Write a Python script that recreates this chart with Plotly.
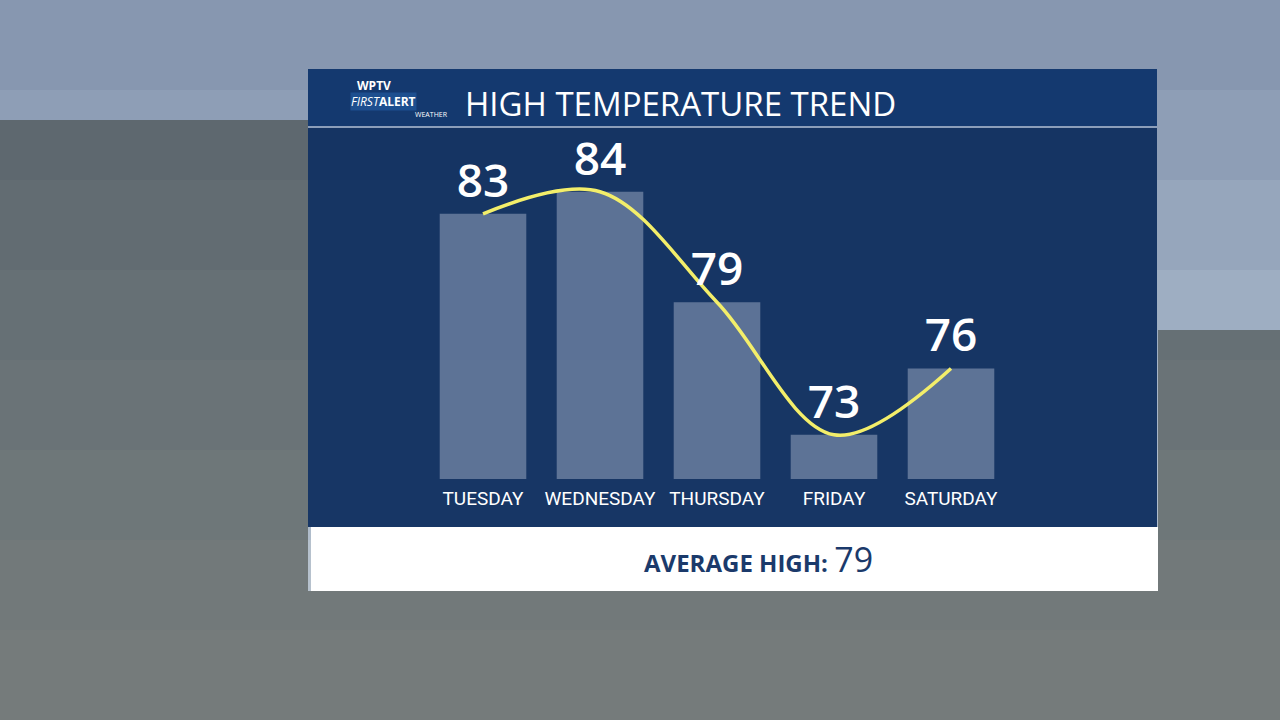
import plotly.graph_objects as go

days = ["TUESDAY", "WEDNESDAY", "THURSDAY", "FRIDAY", "SATURDAY"]
highs = [83, 84, 79, 73, 76]
average_high = 79
base_temp = 71

W, H = 1280, 720
def px(x):
    return x / W
def py(y):
    return 1 - y / H

x_idx = list(range(len(days)))
bar_vals = [h - base_temp for h in highs]

fig = go.Figure()
fig.add_trace(go.Bar(
    x=x_idx, y=bar_vals, base=base_temp, width=0.74,
    marker=dict(color="rgba(190,200,220,0.42)", line=dict(width=0)),
    hoverinfo="skip"))
fig.add_trace(go.Scatter(
    x=x_idx, y=highs, mode="lines",
    line=dict(color="#f3ee6a", width=3.5, shape="spline", smoothing=1.0),
    hoverinfo="skip"))
# value labels, lifted a little above the bar tops
fig.add_trace(go.Scatter(
    x=x_idx, y=[h + 0.25 for h in highs], mode="text", text=[str(h) for h in highs],
    textposition="top center",
    textfont=dict(color="white", size=46, family="Open Sans", weight=600),
    hoverinfo="skip"))
fig.add_trace(go.Scatter(
    x=x_idx, y=[base_temp - 0.55] * len(days), mode="text", text=days,
    textposition="bottom center",
    textfont=dict(color="white", size=19, family="Liberation Sans Narrow, Roboto"),
    hoverinfo="skip"))

shapes = []
# sky background bands
sky = ["#8797b0", "#8e9eb6", "#96a6bc", "#9eaec2", "#a7b5c7", "#afbccb", "#b6c1cd", "#bcc5ce"]
n = len(sky)
for i, c in enumerate(sky):
    shapes.append(dict(type="rect", xref="paper", yref="paper", x0=0, x1=1,
                       y0=1 - (i + 1) / n, y1=1 - i / n, fillcolor=c, line_width=0, layer="below"))
# dark foliage hints
for (x0, x1, y0, y1) in [(0, 308, 120, 720), (1158, 1280, 330, 720), (308, 1158, 591, 720)]:
    shapes.append(dict(type="rect", xref="paper", yref="paper", x0=px(x0), x1=px(x1),
                       y0=py(y1), y1=py(y0), fillcolor="rgba(45,50,40,0.5)", line_width=0, layer="below"))
# panel
shapes.append(dict(type="rect", xref="paper", yref="paper", x0=px(308), x1=px(1157),
                   y0=py(527), y1=py(126), fillcolor="rgba(12,44,92,0.93)", line_width=0, layer="below"))
# header
shapes.append(dict(type="rect", xref="paper", yref="paper", x0=px(308), x1=px(1157),
                   y0=py(126), y1=py(69), fillcolor="#14396f", line_width=0, layer="below"))
shapes.append(dict(type="line", xref="paper", yref="paper", x0=px(308), x1=px(1157),
                   y0=py(127), y1=py(127), line=dict(color="rgba(220,230,245,0.8)", width=1.5)))
# footer
shapes.append(dict(type="rect", xref="paper", yref="paper", x0=px(311), x1=px(1158),
                   y0=py(591), y1=py(527), fillcolor="white", line_width=0, layer="below"))

annotations = [
    dict(text="HIGH TEMPERATURE TREND", xref="paper", yref="paper", x=px(463), y=py(104),
         xanchor="left", yanchor="middle", showarrow=False,
         font=dict(color="white", size=33, family="Open Sans")),
    dict(text="<b>WPTV</b>", xref="paper", yref="paper", x=px(355), y=py(85),
         xanchor="left", yanchor="middle", showarrow=False,
         font=dict(color="white", size=12, family="Open Sans")),
    dict(text="<i>FIRST</i><b>ALERT</b>", xref="paper", yref="paper", x=px(350), y=py(102),
         xanchor="left", yanchor="middle", showarrow=False, bgcolor="#1d4f8f", borderpad=0,
         font=dict(color="white", size=12, family="Open Sans")),
    dict(text="WEATHER", xref="paper", yref="paper", x=px(450), y=py(115),
         xanchor="right", yanchor="middle", showarrow=False,
         font=dict(color="white", size=7, family="Open Sans")),
    dict(text="<b>AVERAGE HIGH:</b> <span style='font-size:34px'>%d</span>" % average_high,
         xref="paper", yref="paper", x=px(758), y=py(559), xanchor="center", yanchor="middle",
         showarrow=False, font=dict(color="#1b3a6b", size=24, family="Open Sans")),
]

# axis ranges so that day i sits at pixel 483 + 117*i and the bar baseline at pixel 479
x0_range = -483 / 117
x1_range = (W - 483) / 117
deg = 22.1
y_top = base_temp + 479 / deg
y_bot = base_temp - (H - 479) / deg

fig.update_layout(
    width=W, height=H, margin=dict(l=0, r=0, t=0, b=0),
    paper_bgcolor="#9aaabf", plot_bgcolor="rgba(0,0,0,0)",
    showlegend=False, shapes=shapes, annotations=annotations,
    xaxis=dict(range=[x0_range, x1_range], visible=False, fixedrange=True),
    yaxis=dict(range=[y_bot, y_top], visible=False, fixedrange=True),
)

fig.write_html("out.html", config={"displayModeBar": False},
               post_script="document.body.style.margin='0';")
